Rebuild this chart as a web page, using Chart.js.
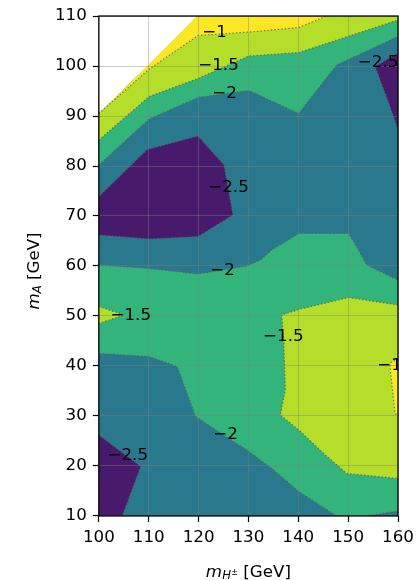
<!DOCTYPE html>
<html>
<head>
<meta charset="utf-8">
<script src="https://cdn.jsdelivr.net/npm/chart.js@4.4.1/dist/chart.umd.min.js"></script>
<style>
  html, body { margin: 0; padding: 0; background: #fff; }
  canvas { display: block; }
</style>
</head>
<body>
<canvas id="contourChart" width="416" height="580"></canvas>
<script>
const xRange = [100, 160];
const yRange = [10, 110];
const xTickValues = [100, 110, 120, 130, 140, 150, 160];
const yTickValues = [10, 20, 30, 40, 50, 60, 70, 80, 90, 100, 110];

// contour paths, [m_H+- , m_A] in GeV
const dataEdge = [[100, 90.5], [110, 100.2], [119.8, 110]];  // edge of the scanned region (white above)
const topLevel1 = [[100, 90.5], [110.1, 99.4], [119.9, 106.1], [130.1, 106.8], [140.1, 107.7], [145.7, 110]];
const topLevel15 = [[100, 85.2], [110.1, 93.9], [119.9, 97.5], [130.1, 102], [140.1, 102.7], [160, 109.2]];
const topLevel2 = [[100, 80.2], [110.1, 89.4], [119.9, 93.7], [130.1, 95.1], [140.1, 90.5], [147.7, 100.2], [160, 105.9]];
const upperLeft25 = [[100, 73.9], [109.7, 83.3], [119.9, 86], [125.1, 80.2], [126.9, 70.2], [119.9, 65.9], [110.1, 65.4], [100, 66.2]];
const upperRight25 = [[160, 102.6], [155.4, 99.9], [158.4, 91.9], [160, 87.2]];
const midLevel2Top = [[100, 60.2], [110.1, 59.5], [119.9, 58.4], [129.7, 60], [132.4, 61.2], [134.7, 63.2], [140.1, 66.5], [150.1, 66.5], [152.1, 63.2], [153.7, 60.2], [160, 57.2]];
const midLevel2Corner = [[160, 11], [153.8, 10]];
const midLevel2Low = [[147.7, 10], [140.1, 14.9], [134.7, 19.5], [130.1, 22.9], [119.4, 29.9], [116.7, 37.2], [115.7, 39.9], [110.1, 41.9], [100, 42.5]];
const midLevel15 = [[160, 52.2], [150.1, 53.7], [140.1, 51.3], [136.7, 50.2], [137.1, 44.5], [137.4, 35.2], [136.4, 30.2], [140.1, 27.2], [145.1, 22.5], [149.7, 18.5], [160, 17.5]];
const rightLevel1 = [[160, 41.4], [158.6, 40.7], [158.4, 39.8], [159.4, 30.6], [160, 29.8]];
const leftLevel15 = [[100, 51.9], [105.1, 50.2], [100, 48.5]];
const lowerLeft25 = [[100, 26.2], [108.4, 19.9], [104.7, 10]];

// inline contour labels
const labelText = ['\u22121', '\u22121.5', '\u22122', '\u22122.5', '\u22122.5', '\u22122', '\u22121.5', '\u22121.5', '\u22121', '\u22122', '\u22122.5'];
const labelX = [123.2, 124, 125.2, 156, 126, 124.8, 106.4, 137, 158.3, 125.4, 105.8];
const labelY = [106.6, 100, 94.4, 100.7, 75.6, 59, 50, 45.8, 40, 26.2, 22];

// viridis bands: < -2.5, -2.5..-2, -2..-1.5, -1.5..-1, > -1
const bandColors = ['#481a6c', '#2a788e', '#32b47b', '#b5de2b', '#fde725'];

const FONT = 'DejaVu Sans';
const FS = 16.7;
Chart.defaults.font.family = FONT;

const xy = pts => pts.map(([x, y]) => ({x: x, y: y}));
const edgeBack = dataEdge.slice().reverse();
const tr = [xRange[1], yRange[1]];

// filled bands, listed bottom to top
const bands = [
  [1, [[xRange[0], yRange[0]], [xRange[1], yRange[0]], tr, ...edgeBack]],
  [2, [...topLevel2, tr, ...edgeBack]],
  [3, [...topLevel15, tr, ...edgeBack]],
  [4, [...topLevel1, ...edgeBack.slice(0, -1)]],
  [0, upperLeft25],
  [0, upperRight25],
  [2, [...midLevel2Top, ...midLevel2Corner, ...midLevel2Low]],
  [3, midLevel15],
  [4, rightLevel1],
  [3, leftLevel15],
  [0, [...lowerLeft25, [xRange[0], yRange[0]]]]
];

const contourLines = [topLevel1, topLevel15, topLevel2, upperLeft25, upperRight25, midLevel2Top,
  midLevel2Corner, midLevel2Low, midLevel15, rightLevel1, leftLevel15, lowerLeft25];

const paintList = [];
bands.forEach(([c, pts]) => {
  paintList.push({
    data: xy(pts), showLine: true, fill: 'shape',
    backgroundColor: bandColors[c], borderColor: 'rgba(0,0,0,0)', borderWidth: 0, pointRadius: 0
  });
});
contourLines.forEach(pts => {
  paintList.push({
    data: xy(pts), showLine: true, fill: false,
    borderColor: 'rgba(95,95,95,0.9)', borderWidth: 1.2, borderDash: [1.3, 2.2], pointRadius: 0
  });
});
// first dataset is painted last, so reverse
const datasets = paintList.reverse();

function drawParts(ctx, parts, cx, cy, angle) {
  ctx.save();
  ctx.translate(cx, cy);
  ctx.rotate(angle);
  ctx.textAlign = 'left';
  ctx.textBaseline = 'alphabetic';
  ctx.fillStyle = '#000';
  const fontOf = p => (p.italic ? 'italic ' : '') + p.size + 'px "' + FONT + '"';
  let total = 0;
  const widths = parts.map(p => {
    ctx.font = fontOf(p);
    const w = ctx.measureText(p.text).width;
    total += w;
    return w;
  });
  let x = -total / 2;
  parts.forEach((p, i) => {
    ctx.font = fontOf(p);
    ctx.fillText(p.text, x, p.dy || 0);
    x += widths[i];
  });
  ctx.restore();
}

const decorations = {
  id: 'decorations',
  afterDraw(chart) {
    const {ctx, chartArea: a, scales} = chart;
    // contour labels, clipped to the axes
    ctx.save();
    ctx.beginPath();
    ctx.rect(a.left, a.top, a.right - a.left, a.bottom - a.top);
    ctx.clip();
    ctx.font = FS + 'px "' + FONT + '"';
    ctx.fillStyle = '#000';
    ctx.textAlign = 'center';
    ctx.textBaseline = 'middle';
    labelText.forEach((t, i) => {
      ctx.fillText(t, scales.x.getPixelForValue(labelX[i]), scales.y.getPixelForValue(labelY[i]));
    });
    ctx.restore();

    // frame
    ctx.save();
    ctx.strokeStyle = '#000';
    ctx.lineWidth = 1.3;
    ctx.strokeRect(a.left, a.top, a.right - a.left, a.bottom - a.top);
    ctx.restore();

    // axis titles
    drawParts(ctx, [
      {text: 'm', size: FS, italic: true},
      {text: 'H', size: 11.7, italic: true, dy: 1.5},
      {text: '\u00b1', size: 8.5, dy: -2},
      {text: ' [GeV]', size: FS}
    ], (a.left + a.right) / 2, 577, 0);
    drawParts(ctx, [
      {text: 'm', size: FS, italic: true},
      {text: 'A', size: 11.7, italic: true, dy: 2},
      {text: ' [GeV]', size: FS}
    ], 39, (a.top + a.bottom) / 2 + 5, -Math.PI / 2);
  }
};

const gridColor = 'rgba(128,128,128,0.4)';

new Chart(document.getElementById('contourChart'), {
  type: 'scatter',
  data: {datasets: datasets},
  options: {
    responsive: false,
    animation: false,
    devicePixelRatio: 1,
    layout: {padding: {left: 49, right: 18, top: 16, bottom: 26}},
    plugins: {legend: {display: false}, tooltip: {enabled: false}},
    scales: {
      x: {
        type: 'linear', min: xRange[0], max: xRange[1],
        afterBuildTicks: axis => { axis.ticks = xTickValues.map(v => ({value: v})); },
        afterFit: axis => { axis.paddingLeft = 0; axis.paddingRight = 0; },
        ticks: {color: '#000', font: {size: FS}, padding: 6, maxRotation: 0, autoSkip: false, z: 1},
        grid: {color: gridColor, lineWidth: 1, tickLength: 6, tickColor: '#000', tickWidth: 1.2, z: 1},
        border: {display: false}
      },
      y: {
        type: 'linear', min: yRange[0], max: yRange[1],
        afterBuildTicks: axis => { axis.ticks = yTickValues.map(v => ({value: v})); },
        ticks: {color: '#000', font: {size: FS}, padding: 6, autoSkip: false, z: 1},
        grid: {color: gridColor, lineWidth: 1, tickLength: 6, tickColor: '#000', tickWidth: 1.2, z: 1},
        border: {display: false}
      }
    }
  },
  plugins: [decorations]
});
</script>
</body>
</html>
